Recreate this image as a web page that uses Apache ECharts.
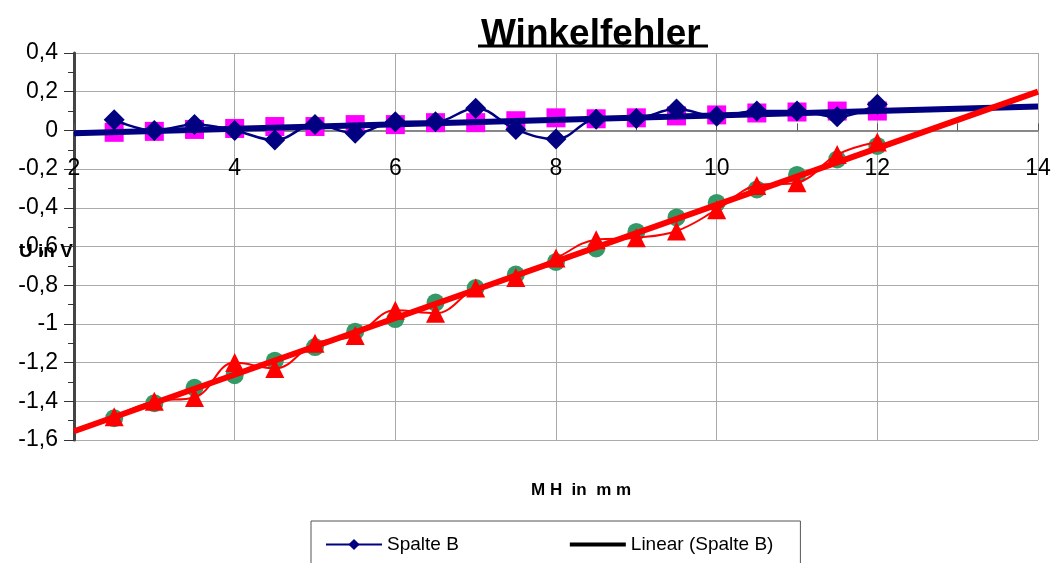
<!DOCTYPE html>
<html>
<head>
<meta charset="utf-8">
<script src="https://cdn.jsdelivr.net/npm/echarts@6/dist/echarts.min.js"></script>
<style>
  html, body { margin: 0; padding: 0; background: #fff; }
  #chart { width: 1060px; height: 563px; }
</style>
</head>
<body>
<div id="chart"></div>
<script>
var xVals = [2.5, 3, 3.5, 4, 4.5, 5, 5.5, 6, 6.5, 7, 7.5, 8, 8.5, 9, 9.5, 10, 10.5, 11, 11.5, 12];
var spalteB = [0.055, 0, 0.03, 0, -0.05, 0.03, -0.015, 0.045, 0.045, 0.115, 0.005, -0.045, 0.057, 0.062, 0.11, 0.073, 0.1, 0.1, 0.07, 0.135];
var spalteC = [-0.01, -0.005, 0.005, 0.01, 0.02, 0.02, 0.03, 0.03, 0.04, 0.04, 0.05, 0.065, 0.06, 0.065, 0.075, 0.08, 0.09, 0.095, 0.1, 0.1];
var spalteD = [-1.487, -1.41, -1.33, -1.265, -1.19, -1.12, -1.04, -0.975, -0.89, -0.815, -0.745, -0.68, -0.61, -0.525, -0.45, -0.375, -0.305, -0.23, -0.15, -0.08];
var spalteE = [-1.48, -1.4, -1.38, -1.2, -1.23, -1.1, -1.06, -0.93, -0.945, -0.815, -0.76, -0.66, -0.565, -0.555, -0.52, -0.41, -0.285, -0.27, -0.125, -0.06];
// trend lines, end points
var trendX = [2, 14];
var trendB = [-0.015, 0.124];
var trendE = [-1.555, 0.2];

function pairs(xs, ys) {
    return xs.map(function (x, i) { return [x, ys[i]]; });
}
function comma(v) {
    return String(Math.round(v * 10) / 10).replace('.', ',');
}

var myChart = echarts.init(document.getElementById('chart'));
var font = 'Liberation Sans, Arial, sans-serif';

var option = {
    backgroundColor: '#fff',
    animation: false,
    title: {
        text: 'Winkelfehler',
        left: 476,
        top: 11,
        textStyle: { fontSize: 37, fontWeight: 'bold', color: '#000', fontFamily: font }
    },
    graphic: [{
        type: 'line',
        shape: { x1: 478, y1: 46, x2: 708, y2: 46 },
        style: { stroke: '#000', lineWidth: 3 }
    }, {
        type: 'text',
        left: 19,
        top: 242,
        style: { text: 'U in V', font: 'bold 19px ' + font, fill: '#000' }
    }, {
        type: 'text',
        left: 531,
        top: 482,
        style: { text: 'M H  in  m m', font: 'bold 17px ' + font, fill: '#000' }
    }],
    legend: {
        left: 311,
        top: 521,
        width: 490,
        padding: [14, 27, 30, 14],
        itemGap: 111,
        itemWidth: 56,
        itemHeight: 14,
        borderColor: '#555',
        borderWidth: 1,
        textStyle: { fontSize: 19, color: '#000', fontFamily: font },
        data: [
            { name: 'Spalte B' },
            { name: 'Linear (Spalte B)', icon: 'path://M0,5 L56,5 L56,9 L0,9 Z', itemStyle: { color: '#000' } }
        ]
    },
    grid: { left: 74, right: 22, top: 53, bottom: 123 },
    xAxis: [{
        type: 'value',
        min: 2,
        max: 14,
        interval: 2,
        axisLine: { show: true, onZero: true, lineStyle: { color: '#888', width: 2 } },
        axisTick: { show: true, inside: true, length: 7, lineStyle: { color: '#555' } },
        minorTick: { show: true, splitNumber: 2, length: 7, lineStyle: { color: '#555' } },
        axisLabel: { show: false },
        splitLine: { show: true, lineStyle: { color: '#aaa', width: 1 } }
    }, {
        // label row sitting on the zero line
        type: 'value',
        min: 2,
        max: 14,
        interval: 2,
        position: 'bottom',
        offset: -309,
        axisLine: { show: false, onZero: false },
        axisTick: { show: false },
        splitLine: { show: false },
        axisLabel: { fontSize: 23, color: '#000', margin: 26, fontFamily: font }
    }],
    yAxis: {
        type: 'value',
        min: -1.6,
        max: 0.4,
        interval: 0.2,
        axisLine: { show: true, onZero: false, lineStyle: { color: '#444', width: 3 } },
        axisTick: { show: true, length: 10, lineStyle: { color: '#333' } },
        minorTick: { show: true, splitNumber: 2, length: 6, lineStyle: { color: '#333' } },
        axisLabel: { fontSize: 23, color: '#000', margin: 16, fontFamily: font, formatter: comma },
        splitLine: { show: true, lineStyle: { color: '#aaa', width: 1 } }
    },
    series: [{
        name: 'Spalte C',
        type: 'line',
        data: pairs(xVals, spalteC),
        symbol: 'rect',
        symbolSize: 19,
        lineStyle: { width: 0 },
        itemStyle: { color: '#ff00ff' },
        z: 2
    }, {
        name: 'Spalte D',
        type: 'line',
        data: pairs(xVals, spalteD),
        symbol: 'circle',
        symbolSize: 18,
        lineStyle: { width: 0 },
        itemStyle: { color: '#339966' },
        z: 2
    }, {
        name: 'Spalte E',
        type: 'line',
        smooth: 0.4,
        data: pairs(xVals, spalteE),
        symbol: 'triangle',
        symbolSize: 19,
        lineStyle: { width: 2, color: '#ff0000' },
        itemStyle: { color: '#ff0000' },
        z: 3
    }, {
        name: 'Linear (Spalte B)',
        type: 'line',
        data: pairs(trendX, trendB),
        symbol: 'none',
        lineStyle: { width: 6, color: '#000080' },
        itemStyle: { color: '#000080' },
        z: 4
    }, {
        name: 'Linear (Spalte E)',
        type: 'line',
        data: pairs(trendX, trendE),
        symbol: 'none',
        lineStyle: { width: 6, color: '#ff0000' },
        itemStyle: { color: '#ff0000' },
        z: 4
    }, {
        name: 'Spalte B',
        type: 'line',
        smooth: 0.4,
        data: pairs(xVals, spalteB),
        symbol: 'diamond',
        symbolSize: 21,
        lineStyle: { width: 2.5, color: '#000080' },
        itemStyle: { color: '#000080' },
        z: 5
    }]
};
myChart.setOption(option);
</script>
</body>
</html>
